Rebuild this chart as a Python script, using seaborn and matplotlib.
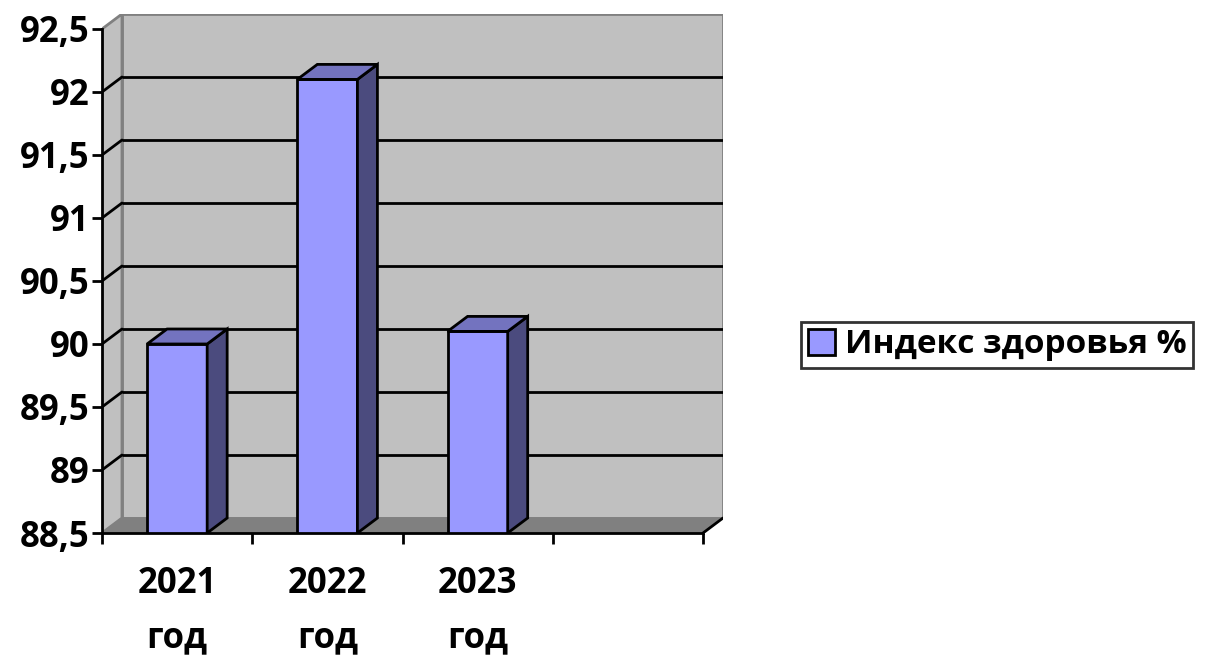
import numpy as np
import pandas as pd
import matplotlib
matplotlib.use('Agg')
import matplotlib.pyplot as plt
from matplotlib.patches import Polygon
from matplotlib.ticker import FuncFormatter
import seaborn as sns

# ── DATA ──────────────────────────────────────────────────
years = ['2021', '2022', '2023']
year_labels = ['2021\nгод', '2022\nгод', '2023\nгод']
health_index = [90.0, 92.1, 90.1]
series_name = 'Индекс здоровья %'
y_ticks = [88.5, 89, 89.5, 90, 90.5, 91, 91.5, 92, 92.5]
n_slots = 4  # excel left an empty fourth category

df = pd.DataFrame({'year': years, 'value': health_index})

# ── STYLE ─────────────────────────────────────────────────
sns.set_style('white')
plt.rcParams['font.family'] = ['Open Sans', 'DejaVu Sans']
plt.rcParams['font.weight'] = 'bold'
plt.rcParams['text.color'] = 'black'
plt.rcParams['xtick.color'] = 'black'
plt.rcParams['ytick.color'] = 'black'
plt.rcParams['xtick.labelcolor'] = 'black'
plt.rcParams['ytick.labelcolor'] = 'black'

FRONT = '#9999FF'
SIDE = '#4B4B7E'
TOP = '#7373BF'
WALL = '#C0C0C0'
FLOOR = '#808080'
EDGE_GRAY = '#808080'
LW = 2

fig = plt.figure(figsize=(12.13, 6.57), dpi=100)
ax = fig.add_axes([102/1213, 1 - 533/657, (723 - 102)/1213, (533 - 14)/657])
ax.set_facecolor('none')

ymin, ymax = y_ticks[0], y_ticks[-1]
x0, x1 = -0.5, n_slots - 0.5
dx, dy = 0.133, 0.119  # depth of the fake 3D box

# back wall + left side wall + floor
ax.add_patch(Polygon([(x0 + dx, ymin + dy), (x1 + dx, ymin + dy),
                      (x1 + dx, ymax + dy), (x0 + dx, ymax + dy)],
                     closed=True, facecolor=WALL, edgecolor=EDGE_GRAY,
                     lw=LW, zorder=0.5))
ax.add_patch(Polygon([(x0, ymin), (x0 + dx, ymin + dy),
                      (x0 + dx, ymax + dy), (x0, ymax)],
                     closed=True, facecolor=WALL, edgecolor=EDGE_GRAY,
                     lw=LW, zorder=0.5))
for v in y_ticks[1:-1]:
    ax.plot([x0, x0 + dx], [v, v + dy], color='black', lw=LW, zorder=1)
ax.hlines([v + dy for v in y_ticks[1:-1]], x0 + dx, x1 + dx,
          color='black', lw=LW, zorder=1)
ax.add_patch(Polygon([(x0, ymin), (x1, ymin), (x1 + dx, ymin + dy),
                      (x0 + dx, ymin + dy)],
                     closed=True, facecolor=FLOOR, edgecolor=EDGE_GRAY,
                     lw=1, zorder=1.2))
ax.plot([x1, x1 + dx], [ymin, ymin + dy], color='black', lw=LW, zorder=1.3)

# bars (front faces)
sns.barplot(data=df, x='year', y='value', order=years, color=FRONT,
            width=0.4, edgecolor='black', linewidth=LW, saturation=1,
            label=series_name, ax=ax)

for bar in ax.patches[3:]:
    bar.set_zorder(3)
    bx0 = bar.get_x()
    bx1 = bx0 + bar.get_width()
    h = bar.get_height()
    ax.add_patch(Polygon([(bx1, ymin), (bx1, h), (bx1 + dx, h + dy),
                          (bx1 + dx, ymin + dy)], closed=True,
                         facecolor=SIDE, edgecolor='black', lw=LW, zorder=3))
    ax.add_patch(Polygon([(bx0, h), (bx1, h), (bx1 + dx, h + dy),
                          (bx0 + dx, h + dy)], closed=True,
                         facecolor=TOP, edgecolor='black', lw=LW, zorder=3))

ax.set_xlim(x0, x1 + dx)
ax.set_ylim(ymin, ymax + dy)

# axes
for s in ['top', 'right']:
    ax.spines[s].set_visible(False)
ax.spines['left'].set_bounds(ymin, ymax)
ax.spines['bottom'].set_bounds(x0, x1)
for s in ['left', 'bottom']:
    ax.spines[s].set_linewidth(LW)
    ax.spines[s].set_color('black')
    ax.spines[s].set_zorder(4)

ax.set_yticks(y_ticks)
ax.yaxis.set_major_formatter(FuncFormatter(lambda v, p: f'{v:g}'.replace('.', ',')))
ax.tick_params(axis='y', length=7, width=LW, labelsize=25, pad=2, left=True)

ax.set_xticks(np.arange(n_slots + 1) - 0.5, labels=[''] * (n_slots + 1))
ax.set_xticks(np.arange(len(years)), labels=year_labels, minor=True)
ax.tick_params(axis='x', which='major', length=8, width=LW, bottom=True)
ax.tick_params(axis='x', which='minor', length=0, labelsize=25, pad=24)
for t in ax.get_xticklabels(minor=True):
    t.set_linespacing(1.68)
ax.set_xlabel('')
ax.set_ylabel('')

leg = ax.legend(loc='center', bbox_to_anchor=(0.822, 0.475),
                bbox_transform=fig.transFigure, frameon=True, fancybox=False,
                edgecolor='black', prop={'size': 24, 'weight': 'bold'},
                handlelength=0.8, handleheight=0.8, handletextpad=0.3,
                borderpad=0.2)
leg.get_frame().set_linewidth(LW)

plt.savefig('out.png', dpi=100, facecolor='white')
